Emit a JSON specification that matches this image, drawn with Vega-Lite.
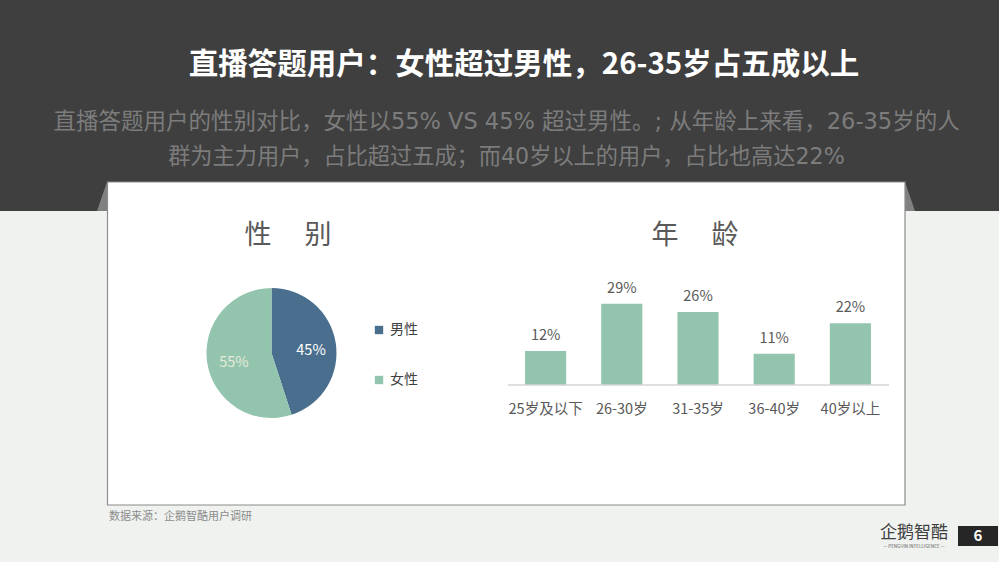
{
  "$schema": "https://vega.github.io/schema/vega-lite/v6.json",
  "width": 999,
  "height": 562,
  "autosize": {"type": "fit", "contains": "padding"},
  "padding": 0,
  "background": "#eff2ef",
  "data": {"values": [{}]},
  "config": {
    "view": {"stroke": null},
    "font": "Noto Sans CJK SC",
    "text": {"font": "Noto Sans CJK SC"}
  },
  "resolve": {
    "scale": {"x": "independent", "y": "independent", "color": "independent", "theta": "independent"},
    "axis": {"x": "independent", "y": "independent"}
  },
  "layer": [
    {"mark": {"type": "rect", "x": 0, "x2": 999, "y": 0, "y2": 211, "color": "#3f3f3f"}},
    {"mark": {"type": "point", "shape": "M0,0L-1,2.9L0,2.9Z", "size": 400, "x": 107, "y": 182, "filled": true, "color": "#808080", "opacity": 1, "strokeWidth": 0}},
    {"mark": {"type": "point", "shape": "M0,0L1,2.9L0,2.9Z", "size": 400, "x": 905, "y": 182, "filled": true, "color": "#808080", "opacity": 1, "strokeWidth": 0}},
    {"mark": {"type": "rect", "x": 107.5, "x2": 905, "y": 182, "y2": 505, "fill": "#ffffff", "stroke": "#8c8c8c", "strokeWidth": 1.2}},
    {"mark": {"type": "text", "text": "直播答题用户：女性超过男性，26-35岁占五成以上", "x": 524, "y": 65, "fontSize": 29.5, "fontWeight": "bold", "color": "#ffffff", "align": "center", "baseline": "middle"}},
    {"mark": {"type": "text", "text": "直播答题用户的性别对比，女性以55% VS 45% 超过男性。; 从年龄上来看，26-35岁的人", "x": 506.5, "y": 122, "fontSize": 22.5, "font": "DejaVu Sans, Noto Sans CJK SC", "color": "#7c7c7c", "align": "center", "baseline": "middle"}},
    {"mark": {"type": "text", "text": "群为主力用户，占比超过五成；而40岁以上的用户，占比也高达22%", "x": 506.5, "y": 157, "fontSize": 22.2, "font": "DejaVu Sans, Noto Sans CJK SC", "color": "#7c7c7c", "align": "center", "baseline": "middle"}},
    {"mark": {"type": "text", "text": "性　 别", "x": 288, "y": 236, "fontSize": 27, "color": "#595959", "align": "center", "baseline": "middle"}},
    {"mark": {"type": "text", "text": "年　 龄", "x": 695, "y": 236, "fontSize": 27, "color": "#595959", "align": "center", "baseline": "middle"}},
    {"mark": {"type": "text", "text": "数据来源：企鹅智酷用户调研", "x": 109, "y": 517, "fontSize": 11, "color": "#8c8c8c", "align": "left", "baseline": "middle"}},
    {"mark": {"type": "text", "text": "企鹅智酷", "x": 914, "y": 533, "fontSize": 17, "color": "#404040", "align": "center", "baseline": "middle"}},
    {"mark": {"type": "text", "text": "— PENGUIN INTELLIGENCE —", "x": 914, "y": 547, "fontSize": 4.5, "color": "#595959", "align": "center", "baseline": "middle"}},
    {"mark": {"type": "rect", "x": 958, "x2": 998, "y": 526, "y2": 546, "color": "#262626"}},
    {"mark": {"type": "text", "text": "6", "x": 978, "y": 536, "fontSize": 15, "fontWeight": "bold", "color": "#ffffff", "align": "center", "baseline": "middle"}},
    {
      "data": {"values": [
        {"gender": "男性", "share": 45, "label": "45%"},
        {"gender": "女性", "share": 55, "label": "55%"}
      ]},
      "encoding": {
        "theta": {"field": "share", "type": "quantitative", "stack": true},
        "order": {"field": "share", "type": "quantitative", "sort": "ascending"}
      },
      "resolve": {"scale": {"color": "independent"}},
      "layer": [
        {
          "mark": {"type": "arc", "x": 271.5, "y": 353, "outerRadius": 65},
          "encoding": {
            "color": {
              "field": "gender",
              "type": "nominal",
              "scale": {"domain": ["男性", "女性"], "range": ["#4a6f8e", "#93c5ae"]},
              "legend": {
                "title": null,
                "orient": "none",
                "legendX": 372,
                "legendY": 323,
                "symbolType": "square",
                "symbolSize": 70,
                "symbolStrokeWidth": 0,
                "labelFontSize": 14,
                "labelColor": "#404040",
                "labelFont": "Noto Sans CJK SC",
                "rowPadding": 36
              }
            }
          }
        },
        {
          "mark": {"type": "text", "radius": 39, "fontSize": 14.5},
          "encoding": {
            "x": {"value": 272.5},
            "y": {"value": 357},
            "text": {"field": "label"},
            "color": {
              "field": "gender",
              "type": "nominal",
              "scale": {"domain": ["男性", "女性"], "range": ["#ffffff", "#e6e9d8"]},
              "legend": null
            }
          }
        }
      ]
    },
    {
      "data": {"values": [
        {"age": "25岁及以下", "share": 12, "label": "12%"},
        {"age": "26-30岁", "share": 29, "label": "29%"},
        {"age": "31-35岁", "share": 26, "label": "26%"},
        {"age": "36-40岁", "share": 11, "label": "11%"},
        {"age": "40岁以上", "share": 22, "label": "22%"}
      ]},
      "encoding": {
        "x": {
          "field": "age",
          "type": "nominal",
          "sort": null,
          "title": null,
          "scale": {"range": [507.5, 888.5], "paddingInner": 0.46, "paddingOuter": 0.23},
          "axis": {
            "offset": -177.5,
            "zindex": 1,
            "labelAngle": 0,
            "labelFontSize": 14.5,
            "labelColor": "#595959",
            "labelFont": "Noto Sans CJK SC",
            "labelPadding": 18,
            "ticks": false,
            "grid": false,
            "domainColor": "#bfbfbf",
            "domainWidth": 1
          }
        },
        "y": {
          "field": "share",
          "type": "quantitative",
          "axis": null,
          "scale": {"domain": [0, 29], "range": [384.5, 303.7]}
        }
      },
      "layer": [
        {"mark": {"type": "bar", "color": "#93c5ae"}},
        {
          "mark": {"type": "text", "baseline": "bottom", "dy": -8, "fontSize": 14.5, "color": "#595959"},
          "encoding": {"text": {"field": "label"}}
        }
      ]
    }
  ]
}
